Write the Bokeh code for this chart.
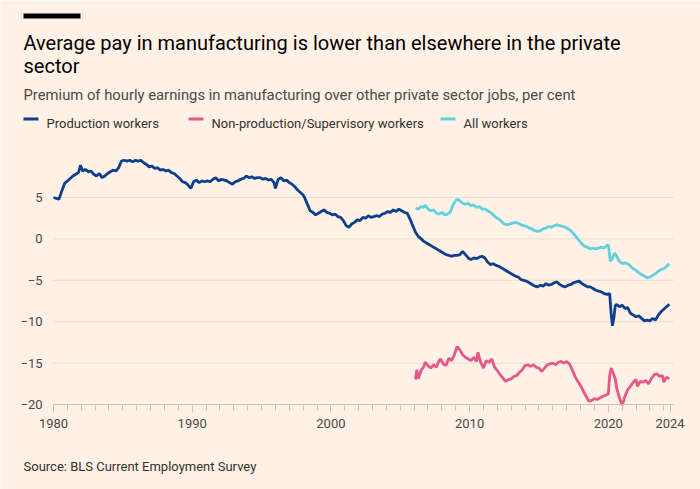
from bokeh.plotting import figure
from bokeh.models import (Label, BoxAnnotation, FixedTicker, CustomJSTickFormatter,
                          Range1d)
from bokeh.embed import file_html
from bokeh.resources import INLINE

# ---------------- data ----------------
prod_years = [1980.0, 1980.2, 1980.4, 1980.6, 1980.8, 1981.0, 1981.2, 1981.4, 1981.6, 1981.8,
              1981.95, 1982.1, 1982.3, 1982.5, 1982.7, 1982.9, 1983.1, 1983.3, 1983.5, 1983.7,
              1983.9, 1984.1, 1984.3, 1984.5, 1984.7, 1984.9, 1985.1, 1985.3, 1985.5, 1985.7,
              1985.9, 1986.1, 1986.3, 1986.5, 1986.7, 1986.9, 1987.1, 1987.3, 1987.5, 1987.7,
              1987.9, 1988.1, 1988.3, 1988.5, 1988.7, 1988.9, 1989.1, 1989.3, 1989.5, 1989.7,
              1989.9, 1990.1, 1990.3, 1990.5, 1990.7, 1990.9, 1991.1, 1991.3, 1991.5, 1991.7,
              1991.9, 1992.1, 1992.3, 1992.5, 1992.7, 1992.9, 1993.1, 1993.3, 1993.5, 1993.7,
              1993.9, 1994.1, 1994.3, 1994.5, 1994.7, 1994.9, 1995.1, 1995.3, 1995.5, 1995.7,
              1995.9, 1996.0, 1996.2, 1996.4, 1996.6, 1996.8, 1997.0, 1997.2, 1997.4, 1997.6,
              1997.8, 1998.0, 1998.1, 1998.3, 1998.5, 1998.7, 1998.9, 1999.1, 1999.3, 1999.5,
              1999.7, 1999.9, 2000.1, 2000.3, 2000.5, 2000.7, 2000.9, 2001.1, 2001.3, 2001.5,
              2001.7, 2001.9, 2002.1, 2002.3, 2002.5, 2002.7, 2002.9, 2003.1, 2003.3, 2003.5,
              2003.7, 2003.9, 2004.1, 2004.3, 2004.5, 2004.7, 2004.9, 2005.1, 2005.3, 2005.5,
              2005.7, 2005.9, 2006.1, 2006.3, 2006.5, 2006.7, 2006.9, 2007.1, 2007.3, 2007.5,
              2007.7, 2007.9, 2008.1, 2008.3, 2008.5, 2008.7, 2008.9, 2009.1, 2009.3, 2009.5,
              2009.7, 2009.9, 2010.1, 2010.3, 2010.5, 2010.7, 2010.9, 2011.1, 2011.3, 2011.5,
              2011.7, 2011.9, 2012.1, 2012.3, 2012.5, 2012.7, 2012.9, 2013.1, 2013.3, 2013.5,
              2013.7, 2013.9, 2014.1, 2014.3, 2014.5, 2014.7, 2014.9, 2015.1, 2015.3, 2015.5,
              2015.7, 2015.9, 2016.1, 2016.3, 2016.5, 2016.7, 2016.9, 2017.1, 2017.3, 2017.5,
              2017.7, 2017.9, 2018.1, 2018.3, 2018.5, 2018.7, 2018.9, 2019.1, 2019.3, 2019.5,
              2019.7, 2019.9, 2020.1, 2020.2, 2020.3, 2020.4, 2020.5, 2020.6, 2020.8, 2021.0,
              2021.2, 2021.4, 2021.6, 2021.8, 2022.0, 2022.2, 2022.4, 2022.6, 2022.8, 2023.0,
              2023.2, 2023.4, 2023.6, 2023.8, 2024.0, 2024.2, 2024.4]
prod_values = [5.0, 4.9, 4.8, 5.8, 6.7, 7.0, 7.3, 7.6, 7.8, 8.0,
               8.9, 8.2, 8.4, 8.1, 8.2, 7.8, 7.6, 7.9, 7.4, 7.6,
               7.9, 8.1, 8.3, 8.2, 8.6, 9.4, 9.5, 9.4, 9.5, 9.3,
               9.5, 9.4, 9.5, 9.2, 9.0, 8.7, 8.8, 8.5, 8.6, 8.3,
               8.4, 8.2, 8.3, 8.0, 7.9, 7.6, 7.3, 6.9, 6.8, 6.5,
               6.1, 6.9, 7.1, 6.8, 7.0, 6.9, 7.0, 6.9, 7.2, 7.4,
               7.0, 7.2, 7.1, 7.0, 6.8, 6.6, 6.9, 7.0, 7.2, 7.3,
               7.6, 7.4, 7.5, 7.3, 7.4, 7.4, 7.2, 7.3, 7.1, 7.2,
               6.8, 6.1, 7.2, 7.4, 7.0, 7.1, 6.8, 6.6, 6.3, 5.9,
               5.6, 5.3, 5.0, 4.2, 3.4, 3.2, 2.9, 3.1, 3.3, 3.5,
               3.2, 3.1, 2.9, 3.0, 2.7, 2.6, 2.2, 1.6, 1.4, 1.8,
               2.0, 2.3, 2.2, 2.6, 2.5, 2.8, 2.6, 2.7, 2.8, 2.7,
               3.0, 3.1, 3.3, 3.2, 3.5, 3.3, 3.6, 3.4, 3.2, 3.1,
               2.4, 1.6, 0.8, 0.3, 0.0, -0.3, -0.5, -0.7, -0.9, -1.1,
               -1.3, -1.5, -1.7, -1.9, -2.0, -2.1, -2.0, -2.0, -1.9, -1.5,
               -1.9, -2.3, -2.5, -2.3, -2.4, -2.2, -2.1, -2.3, -2.8, -3.1,
               -3.0, -3.2, -3.3, -3.5, -3.7, -3.9, -4.1, -4.3, -4.5, -4.6,
               -4.9, -5.0, -5.1, -5.3, -5.5, -5.7, -5.8, -5.6, -5.7, -5.4,
               -5.6, -5.5, -5.3, -5.2, -5.5, -5.7, -5.8, -5.6, -5.5, -5.3,
               -5.2, -5.1, -5.4, -5.6, -5.8, -5.8, -6.0, -6.2, -6.3, -6.4,
               -6.6, -6.7, -6.6, -9.0, -10.5, -9.5, -8.1, -7.9, -8.2, -8.0,
               -8.4, -8.3, -9.0, -9.2, -9.4, -9.3, -9.6, -9.9, -9.8, -9.9,
               -9.6, -9.8, -9.2, -8.8, -8.5, -8.2, -7.9]

all_years = [2006.1, 2006.3, 2006.5, 2006.7, 2006.8, 2007.0, 2007.2, 2007.4, 2007.6, 2007.8,
             2008.0, 2008.2, 2008.4, 2008.6, 2008.8, 2009.0, 2009.1, 2009.3, 2009.5, 2009.7,
             2009.9, 2010.1, 2010.3, 2010.5, 2010.7, 2010.9, 2011.1, 2011.3, 2011.5, 2011.7,
             2011.9, 2012.1, 2012.3, 2012.5, 2012.7, 2012.9, 2013.1, 2013.3, 2013.5, 2013.7,
             2013.9, 2014.1, 2014.3, 2014.5, 2014.7, 2014.9, 2015.1, 2015.3, 2015.5, 2015.7,
             2015.9, 2016.1, 2016.3, 2016.5, 2016.7, 2016.9, 2017.1, 2017.3, 2017.5, 2017.7,
             2017.9, 2018.1, 2018.3, 2018.5, 2018.7, 2018.9, 2019.1, 2019.3, 2019.5, 2019.7,
             2019.9, 2020.0, 2020.15, 2020.3, 2020.45, 2020.6, 2020.8, 2021.0, 2021.2, 2021.4,
             2021.6, 2021.8, 2022.0, 2022.2, 2022.4, 2022.6, 2022.8, 2023.0, 2023.2, 2023.4,
             2023.6, 2023.8, 2024.0, 2024.2, 2024.4]
all_values = [3.7, 3.6, 3.9, 3.8, 4.1, 3.6, 3.4, 3.5, 3.1, 3.0,
              3.2, 2.9, 3.0, 3.2, 4.1, 4.6, 4.8, 4.6, 4.3, 4.2,
              4.3, 4.0, 4.1, 3.8, 3.9, 3.6, 3.6, 3.4, 3.2, 2.9,
              2.6, 2.4, 2.1, 1.8, 1.7, 1.8, 1.9, 2.0, 1.9, 1.7,
              1.6, 1.5, 1.3, 1.2, 1.0, 0.9, 1.0, 1.2, 1.3, 1.5,
              1.4, 1.6, 1.7, 1.6, 1.5, 1.4, 1.2, 1.0, 0.6, 0.2,
              -0.2, -0.6, -0.9, -1.0, -1.2, -1.1, -1.2, -1.1, -1.0, -1.1,
              -0.8, -0.7, -2.7, -2.3, -1.7, -2.1, -2.7, -3.0, -2.9, -3.0,
              -3.3, -3.6, -3.8, -4.1, -4.3, -4.5, -4.7, -4.6, -4.4, -4.2,
              -3.9, -3.7, -3.6, -3.3, -3.0]

nonprod_years = [2006.1, 2006.2, 2006.3, 2006.5, 2006.7, 2006.8, 2007.0, 2007.2, 2007.4, 2007.6,
                 2007.8, 2007.9, 2008.1, 2008.3, 2008.5, 2008.7, 2008.9, 2009.1, 2009.3, 2009.5,
                 2009.7, 2009.9, 2010.1, 2010.3, 2010.5, 2010.6, 2010.8, 2011.0, 2011.2, 2011.4,
                 2011.6, 2011.8, 2012.0, 2012.2, 2012.4, 2012.6, 2012.8, 2013.0, 2013.2, 2013.4,
                 2013.6, 2013.8, 2014.0, 2014.2, 2014.4, 2014.6, 2014.8, 2015.0, 2015.2, 2015.4,
                 2015.6, 2015.8, 2016.0, 2016.2, 2016.4, 2016.6, 2016.8, 2017.0, 2017.2, 2017.4,
                 2017.6, 2017.8, 2018.0, 2018.2, 2018.4, 2018.6, 2018.8, 2019.0, 2019.2, 2019.4,
                 2019.6, 2019.8, 2020.0, 2020.1, 2020.2, 2020.35, 2020.5, 2020.6, 2020.8, 2021.0,
                 2021.2, 2021.4, 2021.6, 2021.8, 2022.0, 2022.1, 2022.3, 2022.5, 2022.7, 2022.9,
                 2023.1, 2023.3, 2023.5, 2023.7, 2023.9, 2024.0, 2024.2, 2024.4]
nonprod_values = [-17.0, -15.8, -16.9, -15.9, -15.4, -14.9, -15.3, -15.6, -15.2, -15.5,
                  -14.7, -14.5, -15.1, -15.3, -14.4, -14.7, -14.0, -13.0, -13.4, -14.0,
                  -14.3, -14.5, -14.7, -14.3, -14.8, -13.7, -14.9, -15.6, -14.7, -14.9,
                  -14.5, -15.5, -15.9, -16.4, -16.8, -17.2, -17.0, -16.9, -16.6, -16.5,
                  -16.1, -15.8, -15.3, -15.2, -15.4, -15.2, -15.5, -15.6, -16.0, -15.6,
                  -15.2, -15.1, -15.0, -15.2, -14.9, -14.8, -15.0, -14.8, -15.1, -15.8,
                  -16.6, -17.2, -17.7, -18.4, -19.0, -19.6, -19.5, -19.3, -19.4, -19.2,
                  -19.0, -18.9, -18.7, -16.5, -15.6, -16.2, -16.9, -18.0, -19.2, -20.1,
                  -19.0, -18.2, -17.8, -17.3, -17.0, -17.8, -17.2, -17.3, -17.1, -17.5,
                  -16.9, -16.4, -16.3, -16.6, -16.5, -17.3, -16.7, -16.9]

y_ticks = [-20, -15, -10, -5, 0, 5]
grid_values = [-15, -10, -5, 0, 5]
x_start, x_end = 1980, 2024.7
x_major_ticks = [1980, 1990, 2000, 2010, 2020, 2024.45]
x_minor_ticks = list(range(1981, 2025))

series_labels = ["Production workers", "Non-production/Supervisory workers", "All workers"]
series_colors = ["#0d3f8c", "#e5588a", "#62d0df"]

title_lines = ["Average pay in manufacturing is lower than elsewhere in the private", "sector"]
subtitle = "Premium of hourly earnings in manufacturing over other private sector jobs, per cent"
source = "Source: BLS Current Employment Survey"

BG = "#fff1e5"
FONT = "Roboto"
W, H = 700, 489

# The frame is the whole canvas; the chart area occupies canvas x 53..673, y 144..404.
PX_X = 620 / (x_end - x_start)          # px per year
PX_Y = 260 / 31.4                       # px per percentage point
xr = Range1d(x_start - 53 / PX_X, x_end + 27 / PX_X)
yr = Range1d(-20 - (H - 404) / PX_Y, -20 + 404 / PX_Y)

p = figure(width=W, height=H, output_backend="svg", toolbar_location=None,
           x_range=xr, y_range=yr, title=None,
           min_border=0, min_border_left=0, min_border_right=0,
           min_border_top=0, min_border_bottom=0)
p.background_fill_color = BG
p.border_fill_color = BG
p.outline_line_color = None
p.xgrid.grid_line_color = None
p.ygrid.grid_line_color = None

# gridlines, limited to the chart width
p.segment(x0=[x_start] * len(grid_values), x1=[x_end] * len(grid_values),
          y0=grid_values, y1=grid_values, line_color="#e9ddd2", line_width=1)

p.line(prod_years, prod_values, line_color=series_colors[0], line_width=2.8)
p.line(nonprod_years, nonprod_values, line_color=series_colors[1], line_width=2.8)
p.line(all_years, all_values, line_color=series_colors[2], line_width=2.8)

# y axis drawn at x = 1980
p.yaxis.fixed_location = x_start
p.yaxis.ticker = FixedTicker(ticks=y_ticks)
p.yaxis.bounds = (-20, 5)
p.yaxis.axis_line_color = None
p.yaxis.major_tick_line_color = None
p.yaxis.minor_tick_line_color = None
p.yaxis.major_label_standoff = 5
p.yaxis.major_label_text_font = FONT
p.yaxis.major_label_text_font_size = "13px"
p.yaxis.major_label_text_color = "#4d4845"

# x axis drawn at y = -20
p.xaxis.fixed_location = -20
p.xaxis.bounds = (x_start, x_end)
p.xaxis.ticker = FixedTicker(ticks=x_major_ticks, minor_ticks=x_minor_ticks)
p.xaxis.formatter = CustomJSTickFormatter(code="return tick > 2023 ? '2024' : tick.toFixed(0);")
p.xaxis.axis_line_color = "#cdc1b6"
p.xaxis.major_tick_line_color = "#cdc1b6"
p.xaxis.minor_tick_line_color = "#cdc1b6"
p.xaxis.major_tick_in = 0
p.xaxis.major_tick_out = 8
p.xaxis.minor_tick_in = 0
p.xaxis.minor_tick_out = 6
p.xaxis.major_label_standoff = 6
p.xaxis.major_label_text_font = FONT
p.xaxis.major_label_text_font_size = "13px"
p.xaxis.major_label_text_color = "#4d4845"


def lab(text, x, y_top, size, color):
    """x, y_top are canvas pixels measured from the top-left corner."""
    p.add_layout(Label(x=x, y=H - y_top, x_units="screen", y_units="screen",
                       text=text, text_font=FONT, text_font_size=size,
                       text_color=color, text_baseline="alphabetic", text_align="left"))


def bar(left, right, top, bottom, color):
    p.add_layout(BoxAnnotation(left=left, right=right, top=H - top, bottom=H - bottom,
                               left_units="screen", right_units="screen",
                               top_units="screen", bottom_units="screen",
                               fill_color=color, fill_alpha=1, line_color=None))


bar(23, 80, 13, 18, "#000000")
lab(title_lines[0], 23, 42, "20px", "#000000")
lab(title_lines[1], 23, 65, "20px", "#000000")
lab(subtitle, 23, 94, "14.8px", "#4d4845")
legend_glyph_x = [23, 188, 440]
legend_text_x = [46, 211, 463]
for i in range(3):
    gx = legend_glyph_x[i]
    bar(gx, gx + 15, 117, 120, series_colors[i])
    lab(series_labels[i], legend_text_x[i], 123, "13px", "#33302e")
lab(source, 23, 466, "13px", "#33302e")

open("out.html", "w").write(file_html(p, INLINE))
